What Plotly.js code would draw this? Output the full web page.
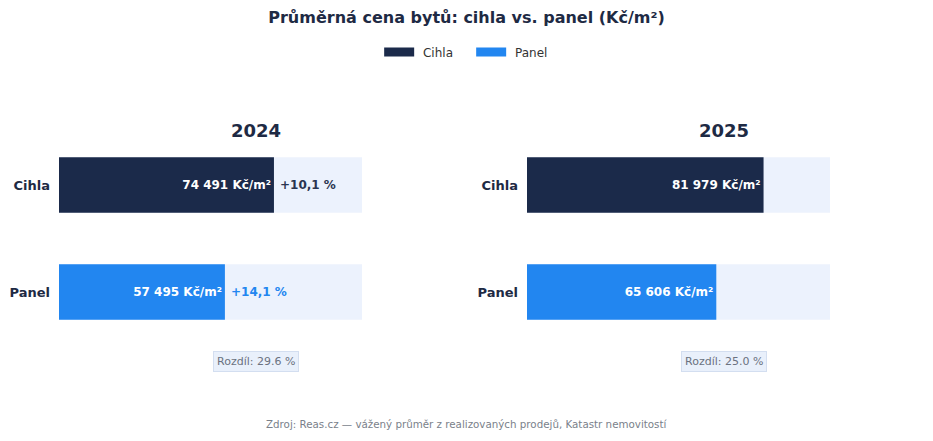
<!DOCTYPE html>
<html>
<head>
<meta charset="utf-8">
<script src="https://cdn.plot.ly/plotly-3.0.1.min.js"></script>
<style>
  html, body { margin: 0; padding: 0; background: #fff; }
  #chart { width: 933px; height: 441px; }
</style>
</head>
<body>
<div id="chart"></div>
<script>
const types = ["Cihla", "Panel"]
const years = ["2024", "2025"]
const price2024 = [74491, 57495]
const price2025 = [81979, 65606]
const growth2024 = ["+10,1 %", "+14,1 %"]
const diffLabels = ["Rozdíl: 29.6 %", "Rozdíl: 25.0 %"]
const trackMax = 105000

const navy = "#1b2a4a"
const blue = "#2286f0"
const track = "#ecf2fd"
const font = "DejaVu Sans, sans-serif"

function fmt(v){
    return String(v).replace(/\B(?=(\d{3})+(?!\d))/g, " ") + " Kč/m²"
}

let traces = []
let annotations = []
let prices = [price2024, price2025]

for (let p=0; p<2; p++) {
    let xa = p == 0 ? "x" : "x2"
    let ya = p == 0 ? "y" : "y2"

    // light track behind the bars
    traces.push({
        type: "bar",
        orientation: "h",
        x: types.map(() => trackMax),
        y: types,
        xaxis: xa, yaxis: ya,
        width: 0.52,
        marker: {color: track},
        showlegend: false,
        hoverinfo: "skip"
    })

    for (let i=0; i<types.length; i++) {
        traces.push({
            type: "bar",
            orientation: "h",
            name: types[i],
            showlegend: false,
            x: [prices[p][i]],
            y: [types[i]],
            xaxis: xa, yaxis: ya,
            width: 0.52,
            marker: {color: i == 0 ? navy : blue},
            text: [fmt(prices[p][i])],
            textposition: "inside",
            insidetextanchor: "end",
            textfont: {color: "#ffffff", size: 12, family: font, weight: 700},
            hoverinfo: "x+y"
        })
    }
}

// legend only entries: thick lines give the wide rectangle swatches
for (let i=0; i<types.length; i++) {
    traces.push({
        type: "scatter",
        mode: "lines",
        name: "\u00a0" + types[i],
        x: [null], y: [null],
        line: {color: i == 0 ? navy : blue, width: 9},
        hoverinfo: "skip"
    })
}

// growth labels (only in 2024 panel)
for (let i=0; i<types.length; i++) {
    annotations.push({
        xref: "x", yref: "y",
        x: price2024[i], y: types[i],
        xanchor: "left", xshift: 4,
        text: "<b>" + growth2024[i] + "</b>",
        showarrow: false,
        font: {size: 12, family: font, color: i == 0 ? "#2a3550" : blue}
    })
}

let doms = [[0.0632, 0.388], [0.5648, 0.8896]]
for (let p=0; p<2; p++) {
    let d = doms[p]
    let cx = d[0] + 0.65 * (d[1] - d[0])
    annotations.push({
        xref: "paper", yref: "paper",
        x: cx, y: 1 - 131/441,
        xanchor: "center", yanchor: "middle",
        text: "<b>" + years[p] + "</b>",
        showarrow: false,
        font: {size: 18, family: font, color: "#1e2a44"}
    })
    annotations.push({
        xref: "paper", yref: "paper",
        x: cx, y: 1 - 361/441,
        xanchor: "center", yanchor: "middle",
        text: diffLabels[p],
        showarrow: false,
        bgcolor: "#e9f0fb",
        bordercolor: "#d3def0",
        borderwidth: 1,
        borderpad: 3,
        font: {size: 11, family: font, color: "#6b7280"}
    })
}

annotations.push({
    xref: "paper", yref: "paper",
    x: 0.5, y: 1 - 424/441,
    xanchor: "center", yanchor: "middle",
    text: "Zdroj: Reas.cz — vážený průměr z realizovaných prodejů, Katastr nemovitostí",
    showarrow: false,
    font: {size: 10.3, family: font, color: "#7a7f8a"}
})

let yaxisBase = {
    type: "category",
    autorange: false,
    range: [1.5, -0.5],
    domain: [0.2166, 0.7018],
    showgrid: false, zeroline: false, showline: false,
    ticks: "", ticklabelstandoff: 8,
    tickfont: {size: 13, family: font, color: "#1e2a44", weight: 700}
}
let xaxisBase = {
    range: [0, trackMax],
    showgrid: false, zeroline: false, showline: false,
    showticklabels: false, ticks: ""
}

let layout = {
    width: 933, height: 441,
    margin: {l: 0, r: 0, t: 0, b: 0},
    paper_bgcolor: "#ffffff",
    plot_bgcolor: "#ffffff",
    barmode: "overlay",
    font: {family: font},
    title: {
        text: "<b>Průměrná cena bytů: cihla vs. panel (Kč/m²)</b>",
        x: 0.5, y: 1 - 17/441, yanchor: "middle",
        font: {size: 16, family: font, color: "#1e2a44"}
    },
    legend: {
        orientation: "h",
        x: 0.505, xanchor: "center",
        y: 1 - 52/441, yanchor: "middle",
        font: {size: 12, family: font, color: "#333"},
        itemwidth: 30,
        entrywidth: 47,
        entrywidthmode: "pixels",
        traceorder: "normal"
    },
    xaxis: Object.assign({}, xaxisBase, {domain: doms[0], anchor: "y"}),
    xaxis2: Object.assign({}, xaxisBase, {domain: doms[1], anchor: "y2"}),
    yaxis: Object.assign({}, yaxisBase, {anchor: "x"}),
    yaxis2: Object.assign({}, yaxisBase, {anchor: "x2"}),
    annotations: annotations
}

Plotly.newPlot("chart", traces, layout, {displayModeBar: false, staticPlot: true})
</script>
</body>
</html>
